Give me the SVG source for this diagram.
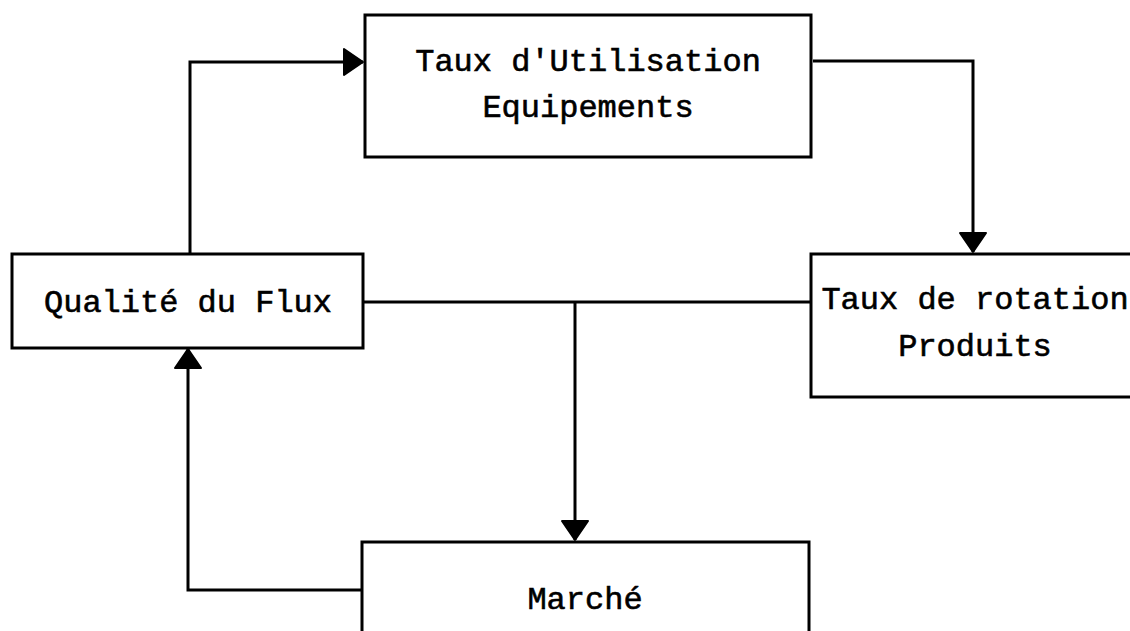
<svg xmlns="http://www.w3.org/2000/svg" width="1130" height="631" viewBox="0 0 1130 631">
<defs>
<style>
.box{fill:#fff;stroke:#000;stroke-width:3}
.t{font-family:"Liberation Mono","Courier New",monospace;font-size:32px;fill:#000;text-anchor:middle;stroke:#000;stroke-width:0.6}
.c{fill:none;stroke:#000;stroke-width:3}
</style>
<marker id="ah" markerUnits="userSpaceOnUse" markerWidth="24" markerHeight="32" refX="21" refY="15" orient="auto">
<path d="M2,2 L21,15 L2,28 z" fill="#000" stroke="#000" stroke-width="2" stroke-linejoin="round"/>
</marker>
</defs>
<rect width="1130" height="631" fill="#fff"/>
<g id="connectors">
<path class="c" d="M190,254 L190,62 L363,62" marker-end="url(#ah)"/>
<path class="c" d="M813,61 L973,61 L973,252" marker-end="url(#ah)"/>
<path class="c" d="M363,302 L811,302"/>
<path class="c" d="M575,302 L575,540" marker-end="url(#ah)"/>
<path class="c" d="M362,590 L188,590 L188,349" marker-end="url(#ah)"/>
</g>
<g id="n-taux-utilisation">
<rect class="box" x="365" y="15" width="446" height="142"/>
<text class="t" x="588" y="71">Taux d'Utilisation</text>
<text class="t" x="588" y="117">Equipements</text>
</g>
<g id="n-qualite">
<rect class="box" x="12" y="254" width="351" height="94"/>
<text class="t" x="188" y="312">Qualité du Flux</text>
</g>
<g id="n-taux-rotation">
<rect class="box" x="811" y="254" width="340" height="143"/>
<text class="t" x="975" y="309">Taux de rotation</text>
<text class="t" x="975" y="356">Produits</text>
</g>
<g id="n-marche">
<rect class="box" x="362" y="542" width="447" height="110"/>
<text class="t" x="585" y="609">Marché</text>
</g>
</svg>
